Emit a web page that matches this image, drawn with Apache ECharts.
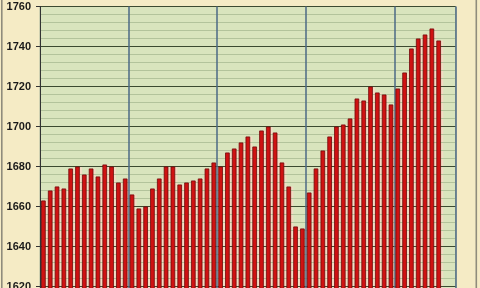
<!DOCTYPE html>
<html>
<head>
<meta charset="utf-8">
<script src="https://cdn.jsdelivr.net/npm/echarts@6/dist/echarts.min.js"></script>
<style>
html,body{margin:0;padding:0;background:#f5ebc5;}
#c{width:480px;height:288px;}
</style>
</head>
<body>
<div id="c"></div>
<script>
// Four-week periods, 13 per year
const periods = ['P1','P2','P3','P4','P5','P6','P7','P8','P9','P10','P11','P12','P13'];
const years = ['Y1','Y2','Y3','Y4','Y5'];
const year1 = [1663, 1668, 1670, 1669, 1679, 1680, 1676, 1679, 1675, 1681, 1680, 1672, 1674];
const year2 = [1666, 1659, 1660, 1669, 1674, 1680, 1680, 1671, 1672, 1673, 1674, 1679, 1682];
const year3 = [1680, 1687, 1689, 1692, 1695, 1690, 1698, 1700, 1697, 1682, 1670, 1650, 1649];
const year4 = [1667, 1679, 1688, 1695, 1700, 1701, 1704, 1714, 1713, 1720, 1717, 1716, 1711];
const year5 = [1719, 1727, 1739, 1744, 1746, 1749, 1743, null, null];
const yTicks = {min: 1600, max: 1760, interval: 20};

const values = [].concat(year1, year2, year3, year4, year5);
const categories = [];
years.forEach(y => periods.forEach(p => categories.push(y + ' ' + p)));
categories.length = values.length;

const chart = echarts.init(document.getElementById('c'), null, {renderer: 'canvas'});
chart.setOption({
  animation: false,
  backgroundColor: '#f5ebc5',
  grid: {
    left: 40, top: 6.5, width: 415.7, height: 320,
    containLabel: false,
    outerBoundsMode: 'none',
    show: true, backgroundColor: '#d9e4bd', borderColor: '#a9b49c', borderWidth: 1, z: 0
  },
  xAxis: {
    type: 'category',
    data: categories,
    z: 2,
    axisLine: {show: false},
    axisTick: {show: false},
    axisLabel: {show: false},
    splitLine: {
      show: true,
      interval: function (i) { return i > 0 && i % 13 === 0; },
      lineStyle: {color: '#4b6a86', width: 1.5}
    }
  },
  yAxis: {
    type: 'value',
    min: yTicks.min, max: yTicks.max, interval: yTicks.interval,
    z: 2,
    axisLine: {show: true, lineStyle: {color: '#333', width: 1}},
    axisTick: {show: true, length: 4, lineStyle: {color: '#333'}},
    axisLabel: {
      margin: 9, fontSize: 11, fontWeight: 'bold', color: '#1a1a1a',
      fontFamily: 'Liberation Sans, Arial, sans-serif',
      formatter: function (v) { return String(v); }
    },
    splitLine: {show: true, lineStyle: {color: '#3c4a30', width: 1}},
    minorTick: {show: false, splitNumber: 5},
    minorSplitLine: {show: true, lineStyle: {color: '#b3c39b', width: 1}}
  },
  graphic: [
    {type: 'rect', shape: {x: 1, y: 0, width: 1.6, height: 288}, style: {fill: '#8f8c7c'}, silent: true},
    {type: 'rect', shape: {x: 475.5, y: 0, width: 1.6, height: 288}, style: {fill: '#8f8c7c'}, silent: true}
  ],
  series: [
    {
      type: 'bar',
      data: values,
      barWidth: '100%',
      z: 1,
      silent: true,
      itemStyle: {color: '#f1dcc4'}
    },
    {
      type: 'bar',
      data: values,
      barWidth: 4.6,
      barGap: '-100%',
      z: 3,
      itemStyle: {color: '#cf1212', borderColor: '#6e0909', borderWidth: 0.8}
    }
  ]
});
</script>
</body>
</html>
